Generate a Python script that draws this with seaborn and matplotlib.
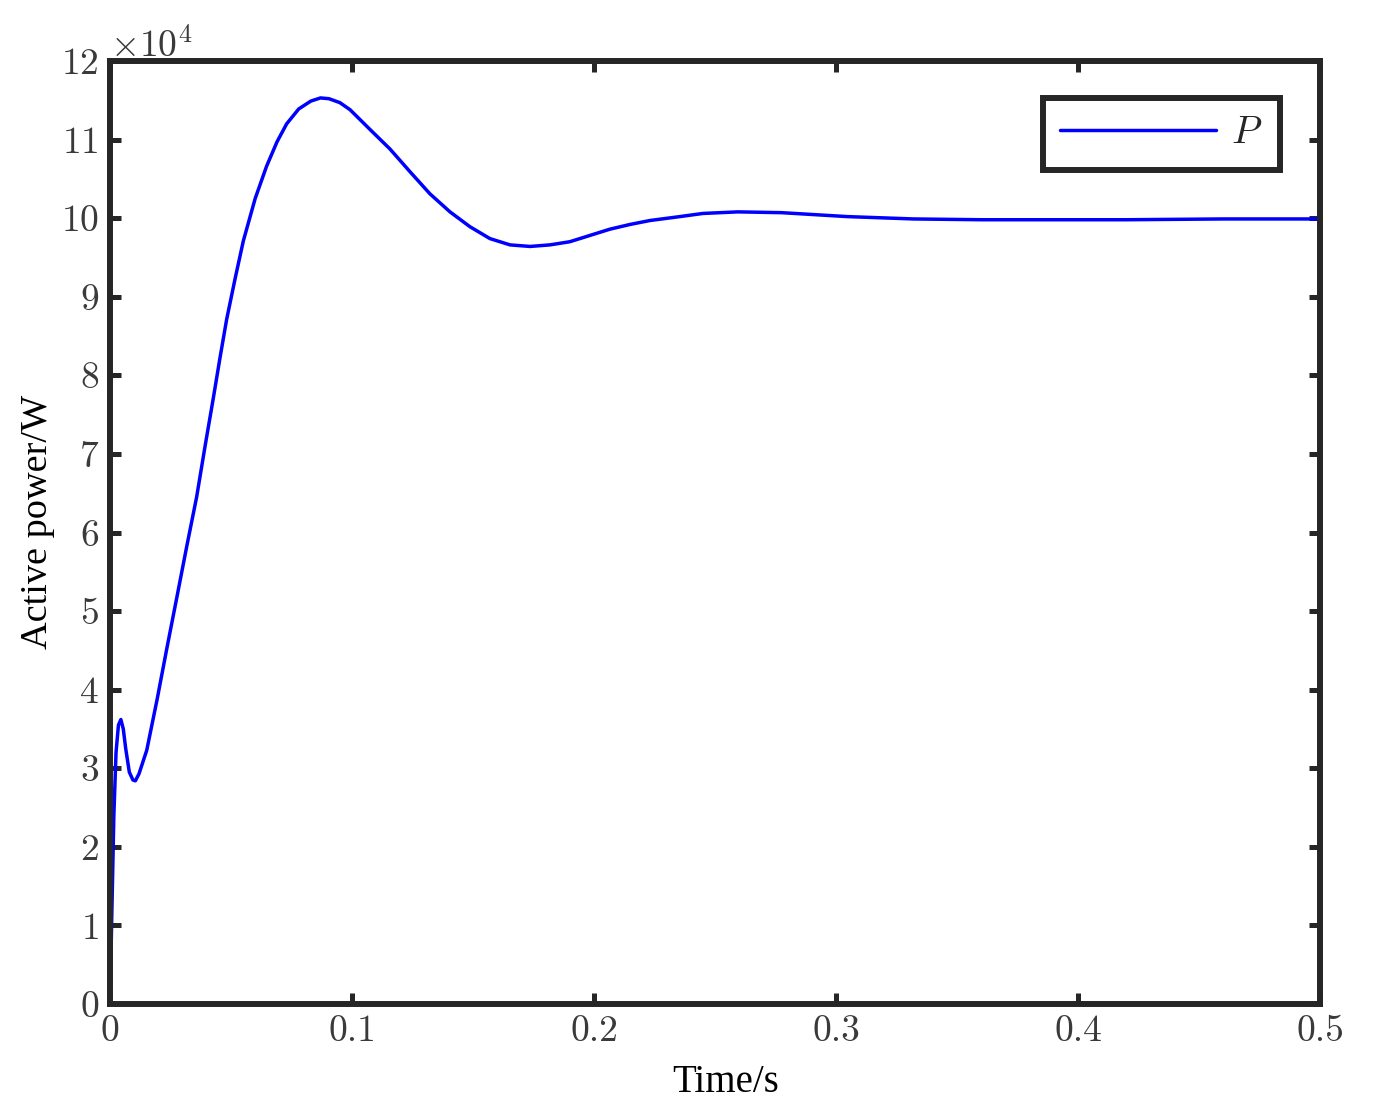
import numpy as np
import pandas as pd
import matplotlib
matplotlib.use("Agg")
import matplotlib.pyplot as plt
import seaborn as sns
from matplotlib.ticker import ScalarFormatter, MultipleLocator, FuncFormatter

# ---- data (time in s, active power in W) ----
t = [0, 0.0008, 0.0016, 0.0025, 0.0035, 0.0045, 0.0055, 0.0065, 0.0080, 0.0095,
     0.0105, 0.0120, 0.0152, 0.0195, 0.0234, 0.0276, 0.0317, 0.0358, 0.0393, 0.0427,
     0.0455, 0.0482, 0.0517, 0.0551, 0.0600, 0.0647, 0.0690, 0.0730, 0.0780, 0.0830,
     0.0870, 0.0905, 0.0950, 0.0992, 0.1074, 0.1157, 0.1240, 0.1322, 0.1405, 0.1488,
     0.1570, 0.1653, 0.1736, 0.1818, 0.1900, 0.1983, 0.2066, 0.2149, 0.2231, 0.2355,
     0.2450, 0.2594, 0.2775, 0.3046, 0.3320, 0.3600, 0.3860, 0.4200, 0.4600, 0.5000]
P_1e4 = [0, 1.2, 2.4, 3.2, 3.55, 3.62, 3.5, 3.25, 2.95, 2.85,
         2.84, 2.93, 3.23, 3.88, 4.51, 5.17, 5.82, 6.45, 7.10, 7.71,
         8.23, 8.71, 9.23, 9.71, 10.25, 10.66, 10.97, 11.20, 11.39, 11.49,
         11.53, 11.52, 11.47, 11.38, 11.13, 10.88, 10.59, 10.31, 10.08, 9.89,
         9.74, 9.66, 9.64, 9.66, 9.70, 9.78, 9.86, 9.92, 9.97, 10.02,
         10.06, 10.08, 10.07, 10.02, 9.99, 9.98, 9.98, 9.98, 9.99, 9.99]
P = [v * 1e4 for v in P_1e4]
series_name = "$P$"
x_label = "Time/s"
y_label = "Active power/W"

df = pd.DataFrame({"t": t, "P": P, "series": series_name})

sns.set_style("white")
plt.rcParams["mathtext.fontset"] = "cm"
plt.rcParams["axes.formatter.use_mathtext"] = True
plt.rcParams["font.family"] = ["Liberation Serif", "DejaVu Serif"]

dark = "#262626"
fig = plt.figure(figsize=(13.73, 11.11), dpi=100)
ax = fig.add_axes([0.0801, 0.0963, 0.8813, 0.8488])

sns.lineplot(data=df, x="t", y="P", hue="series", palette=["#0000ff"],
             linewidth=2.5, ax=ax)

ax.set_xlim(0, 0.5)
ax.set_ylim(0, 120000)
ax.xaxis.set_major_locator(MultipleLocator(0.1))
ax.yaxis.set_major_locator(MultipleLocator(10000))

fmt = ScalarFormatter(useMathText=True)
fmt.set_powerlimits((4, 4))
ax.yaxis.set_major_formatter(fmt)
ax.xaxis.set_major_formatter(FuncFormatter(lambda v, pos: "%g" % round(v, 3)))

for s in ax.spines.values():
    s.set_visible(True)
    s.set_linewidth(4.3)
    s.set_color(dark)

ax.tick_params(axis="both", which="major", direction="in", length=8, width=3.6,
               color=dark, top=True, right=True, bottom=True, left=True,
               labelsize=27, labelcolor="#3a3a3a", pad=8, labelfontfamily="cmr10")
ax.yaxis.get_offset_text().set_fontsize(27)
ax.yaxis.get_offset_text().set_fontfamily("cmr10")
ax.yaxis.get_offset_text().set_color("#3a3a3a")

ax.set_xlabel(x_label, fontsize=28, color="black", labelpad=11)
ax.set_ylabel(y_label, fontsize=27.5, color="black", labelpad=4)
ax.xaxis.label.set_x(0.509)
ax.yaxis.label.set_y(0.511)

leg = ax.legend(loc="upper right", bbox_to_anchor=(0.967, 0.961), borderaxespad=0,
                fontsize=28, handlelength=4.0, fancybox=False, frameon=True,
                edgecolor=dark, framealpha=1, borderpad=0.45, handletextpad=0.4)
leg.get_frame().set_linewidth(4.3)
for line in leg.get_lines():
    line.set_linewidth(2.5)

fig.savefig("out.png", dpi=100)
